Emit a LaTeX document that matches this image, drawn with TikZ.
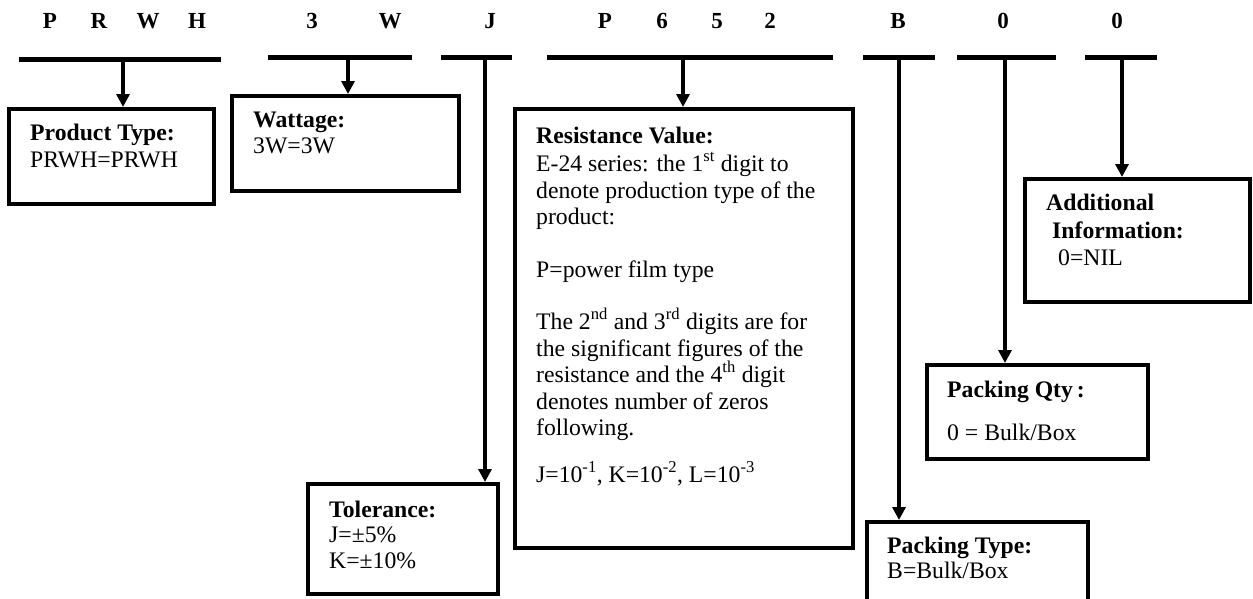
\documentclass[tikz,border=0pt]{standalone}
\usepackage{fontspec}
\setmainfont{Liberation Serif}
\usetikzlibrary{arrows.meta}
\newcommand{\bodyfont}{\fontsize{23.7}{26.5}\selectfont}
\newcommand{\codefont}{\fontsize{23}{25}\selectfont\bfseries}
\tikzset{
  bar/.style={line width=5pt},
  arr/.style={line width=4pt,-{Triangle[length=13pt,width=13pt]}},
  box/.style={draw,line width=4pt,rectangle,inner sep=0pt,anchor=north west},
  txt/.style={anchor=base west,inner sep=0pt,font=\bodyfont},
  code/.style={anchor=base,inner sep=0pt,font=\codefont}
}
\begin{document}
\begin{tikzpicture}[x=1pt,y=-1pt]
    \useasboundingbox (0,0) rectangle (1253,598);
    % code letters
    \foreach \x/\c [count=\i] in {50/P,99/R,148/W,197/H,312/3,390/W,490/J,605/P,662/6,717/5,770/2,898/B,1003/0,1117/0}
        \node[code] (c\i) at (\x,28) {\c};
    % bars under the groups
    \draw[bar] (19,59) -- (221,59);
    \draw[bar] (268,57) -- (412,57);
    \draw[bar] (441,57) -- (512,57);
    \draw[bar] (547,57) -- (833,57);
    \draw[bar] (863,57) -- (935,57);
    \draw[bar] (957,57) -- (1056,57);
    \draw[bar] (1085,57) -- (1157,57);
    \coordinate (b1) at (123,59);
    \coordinate (b2) at (348,57);
    \coordinate (b3) at (485,57);
    \coordinate (b4) at (683,57);
    \coordinate (b5) at (899,57);
    \coordinate (b6) at (1005,57);
    \coordinate (b7) at (1122,57);
    % boxes
    \node[box,minimum width=205pt,minimum height=95pt] (prod) at (7,107) {};
    \node[box,minimum width=227pt,minimum height=95pt] (watt) at (230,94) {};
    \node[box,minimum width=190pt,minimum height=110pt] (tol) at (306,482) {};
    \node[box,minimum width=338pt,minimum height=439pt] (res) at (513,107) {};
    \node[box,minimum width=221pt,minimum height=90pt] (ptype) at (865,520) {};
    \node[box,minimum width=221pt,minimum height=94pt] (pqty) at (925,363) {};
    \node[box,minimum width=225pt,minimum height=123pt] (addl) at (1023,177) {};
    % connectors
    \draw[arr] (b1) -- (b1 |- prod.north);
    \draw[arr] (b2) -- (b2 |- watt.north);
    \draw[arr] (b3) -- (b3 |- tol.north);
    \draw[arr] (b4) -- (b4 |- res.north);
    \draw[arr] (b5) -- (b5 |- ptype.north);
    \draw[arr] (b6) -- (b6 |- pqty.north);
    \draw[arr] (b7) -- (b7 |- addl.north);
    % texts
    \node[txt] (prod1) at (30,140) {\textbf{Product Type:}};
    \node[txt] (prod2) at (30,167) {PRWH=PRWH};
    \node[txt] (watt1) at (253,127) {\textbf{Wattage:}};
    \node[txt] (watt2) at (253,153) {3W=3W};
    \node[txt] (tol1) at (329,517) {\textbf{Tolerance:}};
    \node[txt] (tol2) at (329,542) {J=±5\%};
    \node[txt] (tol3) at (329,568) {K=±10\%};
    \node[txt] (res1) at (536,143) {\textbf{Resistance Value:}};
    \node[txt] (res2) at (536,171) {E-24 series: the 1\textsuperscript{st} digit to};
    \node[txt] (res3) at (536,198) {denote production type of the};
    \node[txt] (res4) at (536,224) {product:};
    \node[txt] (res5) at (536,277) {P=power film type};
    \node[txt] (res6) at (536,329) {The 2\textsuperscript{nd} and 3\textsuperscript{rd} digits are for};
    \node[txt] (res7) at (536,356) {the significant figures of the};
    \node[txt] (res8) at (536,382) {resistance and the 4\textsuperscript{th} digit};
    \node[txt] (res9) at (536,409) {denotes number of zeros};
    \node[txt] (res10) at (536,435) {following.};
    \node[txt] (res11) at (536,482) {J=10\textsuperscript{-1}, K=10\textsuperscript{-2}, L=10\textsuperscript{-3}};
    \node[txt] (addl1) at (1046,210) {\textbf{Additional}};
    \node[txt] (addl2) at (1052,238) {\textbf{Information:}};
    \node[txt] (addl3) at (1058,265) {0=NIL};
    \node[txt] (pqty1) at (947,397) {\textbf{Packing Qty\,:}};
    \node[txt] (pqty2) at (947,440) {0 = Bulk/Box};
    \node[txt] (ptype1) at (887,553) {\textbf{Packing Type:}};
    \node[txt] (ptype2) at (887,578) {B=Bulk/Box};
\end{tikzpicture}
\end{document}
